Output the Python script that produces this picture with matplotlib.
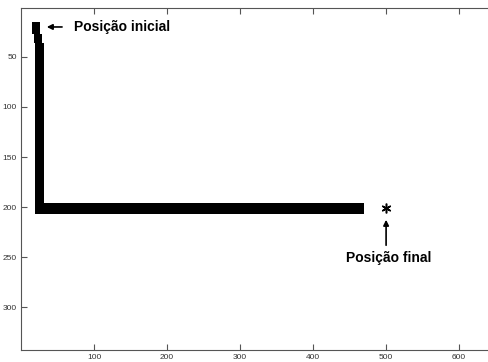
import matplotlib
matplotlib.use("Agg")
import matplotlib.pyplot as plt

plt.rcParams["font.family"] = ["Liberation Sans", "DejaVu Sans"]

# vertical pieces of the traced path: centre x, top y, bottom y (data units)
vert_x = [20.8, 23.0, 25.3]
vert_top = [15.5, 27.0, 36.0]
vert_bottom = [27.5, 36.5, 207.0]

# horizontal piece: centre y, start x, end x
horiz_y = [201.5]
horiz_start = [19.0]
horiz_end = [470.0]

# target position
final_x = [500]
final_y = [201]

start_label = "Posição inicial"
final_label = "Posição final"
xticks = [100, 200, 300, 400, 500, 600]
yticks = [50, 100, 150, 200, 250, 300]

fig = plt.figure(figsize=(4.89, 3.62), dpi=100)
ax = fig.add_axes([0.043, 0.033, 0.975, 0.945])

pen = 11  # path thickness in data units
ax.bar(vert_x, [b - t for t, b in zip(vert_top, vert_bottom)], bottom=vert_top,
       width=pen, color="black", linewidth=0)
ax.barh(horiz_y, [e - s for s, e in zip(horiz_start, horiz_end)], left=horiz_start,
        height=pen, color="black", linewidth=0)

ax.plot(final_x, final_y, linestyle="none", marker=(6, 2, 0), markersize=7,
        markeredgewidth=1.1, color="black")

ax.annotate("", xy=(31.5, 20), xytext=(60, 20),
            arrowprops=dict(arrowstyle="-|>", lw=1.2, color="black", mutation_scale=8))
ax.text(72, 20, start_label, fontsize=10, fontweight="bold", va="center", ha="left")

ax.annotate("", xy=(final_x[0], 210), xytext=(final_x[0], 241),
            arrowprops=dict(arrowstyle="-|>", lw=1.2, color="black", mutation_scale=8))
ax.text(503, 251, final_label, fontsize=10, fontweight="bold", va="center", ha="center")

ax.set_xlim(0, 653)
ax.set_ylim(343, 1)
ax.set_xticks(xticks)
ax.set_yticks(yticks)
ax.tick_params(direction="in", length=4, width=0.8, color="#555555",
               labelsize=6, labelcolor="#333333", top=True, right=False, pad=3)
for s in ax.spines.values():
    s.set_color("#555555")
    s.set_linewidth(0.8)
ax.spines["right"].set_visible(False)

fig.savefig("out.png", dpi=100)
